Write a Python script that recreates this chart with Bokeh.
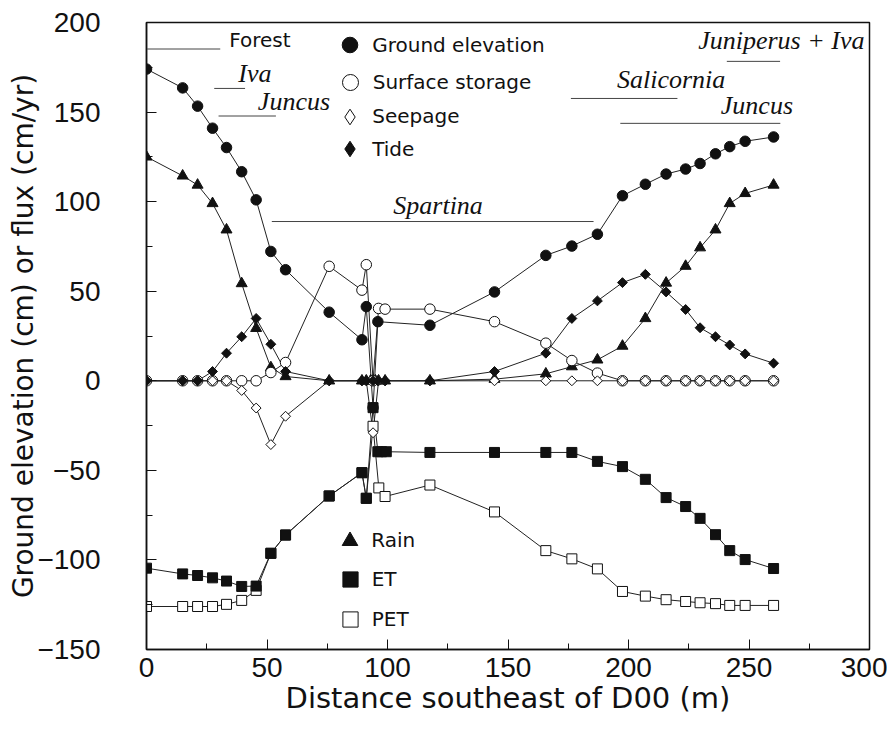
import numpy as np
from bokeh.plotting import figure
from bokeh.models import (SingleIntervalTicker, Legend, LegendItem, Range1d, Title)
from bokeh.core.properties import value
from bokeh.embed import file_html
from bokeh.resources import INLINE

# ---------------- data ----------------
ground_x = [0, 15, 21.2, 27.4, 33.2, 39.5, 45.5, 51.6, 57.7, 75.8, 89.4, 91.2, 94, 96, 117.6,
            144.4, 165.7, 176.5, 187.1, 197.5, 207, 215.6, 223.7, 229.7, 236.1, 242, 248.4, 260.2]
ground = [174, 163.5, 153.3, 141, 130.2, 116.7, 101, 72.2, 62, 38.3, 22.9, 41.4, -15, 33, 31,
          49.6, 70, 75.2, 81.8, 103.3, 109.7, 115.4, 118.2, 121.3, 126.7, 130.7, 133.7, 136.1]

surf_x = [0, 15, 21.2, 27.4, 33.2, 39.5, 45.5, 51.6, 57.7, 75.8, 89.4, 91.2, 94, 96.3, 99, 117.6,
          144.4, 165.7, 176.5, 187.1, 197.5, 207, 215.6, 223.7, 229.7, 236.1, 242, 248.4, 260.2]
surface = [0, 0, 0, 0, 0, 0, 0, 4.6, 10.2, 63.9, 50.6, 64.8, 0, 40.4, 40, 40,
           33, 21, 11.3, 4.3, 0, 0, 0, 0, 0, 0, 0, 0, 0]

seep_x = surf_x
seepage = [0, 0, 0, 0, 0, -5.4, -15.2, -35.6, -19.8, 0, 0, 0, -29, 0, 0, 0,
           0, 0, 0, 0, 0, 0, 0, 0, 0, 0, 0, 0, 0]

tide_x = [0, 15, 21.2, 27.4, 33.2, 39.5, 45.5, 51.6, 57.7, 75.8, 89.4, 91.2, 94, 96, 99, 117.6,
          144.4, 165.7, 176.5, 187.1, 197.5, 207, 215.6, 223.7, 229.7, 236.1, 242, 248.4, 260.2]
tide = [0, 0, 0, 5.2, 15.4, 24.6, 34.8, 20.4, 5.2, 0, 0, 0, 0, 0, 0, 0,
        5.2, 15.4, 34.8, 44.6, 54.8, 59.4, 49.6, 39.8, 29.6, 24.6, 20, 15, 9.8]

rain_x = [0, 15, 21.2, 27.4, 33.2, 39.5, 45.5, 51.6, 57.7, 75.8, 89.4, 91.2, 93, 94, 95, 96.3, 99,
          117.6, 144.4, 165.7, 176.5, 187.1, 197.5, 207, 215.6, 223.7, 229.7, 236.1, 242, 248.4, 260.2]
rain = [125, 114.4, 109.3, 99, 84.3, 54.3, 29.3, 7.4, 2.4, 0, 0, 0, 0, 0, 0, 0, 0,
        0, 0.9, 3.9, 7.9, 11.7, 19.4, 34.8, 54.6, 64, 74.3, 84.3, 99, 104.6, 109.3]

et_x = [0, 15, 21.2, 27.4, 33.2, 39.5, 45.5, 51.6, 57.7, 75.8, 89.4, 91.2, 94, 96, 97.5, 99.5,
        117.6, 144.4, 165.7, 176.5, 187.1, 197.5, 207, 215.6, 223.7, 229.7, 236.1, 242, 248.4, 260.2]
et = [-104.6, -107.8, -108.7, -110, -111.8, -114.8, -114.6, -96.3, -86.1, -64.3, -51.3, -65.6,
      -15, -39.6, -39.6, -39.6, -40, -40, -40, -40, -45, -47.9, -55, -65.2, -70.2, -76.8,
      -85.9, -94.8, -99.8, -104.8]

pet_x = [0, 15, 21.2, 27.4, 33.2, 39.5, 45.5, 51.6, 57.7, 75.8, 89.4, 91.2, 94, 96.4, 99,
         117.6, 144.4, 165.7, 176.5, 187.1, 197.5, 207, 215.6, 223.7, 229.7, 236.1, 242, 248.4, 260.2]
pet = [-126, -126, -126, -126, -124.8, -122.6, -117, -96.3, -86.1, -64.3, -51.3, -65.6, -25.4,
       -59.8, -64.6, -58.2, -73.2, -94.8, -99.4, -105, -117.6, -120.2, -122.2, -123.2, -123.9,
       -124.4, -125.4, -125.4, -125.4]

# vegetation zones (label, bar extent and level, label anchor)
zone_names = ["Forest", "Iva", "Juncus", "Spartina", "Salicornia", "Juncus", "Juniperus + Iva"]
zone_start = [0.3, 28.1, 29.9, 52, 176.1, 196.6, 240.8]
zone_end = [30.6, 40.9, 53.7, 185.5, 220.3, 263, 262.9]
zone_level = [185.2, 163.2, 147.8, 88.9, 157.6, 143.7, 178.3]
zone_label_x = [34.3, 38.1, 46.2, 102.4, 195.2, 238.3, 228.9]
zone_label_y = [190.5, 171.5, 156, 98, 168, 153.5, 190]

# ---------------- figure ----------------
FRAME_LEFT = 146.3    # page px of frame left
FRAME_BOTTOM = 649.0  # page px of frame bottom

p = figure(width=887, height=720, output_backend="svg", toolbar_location=None,
           x_range=Range1d(0, 300), y_range=Range1d(-150, 200),
           min_border_left=146, min_border_right=18, min_border_top=22, min_border_bottom=71)
p.grid.visible = False
p.outline_line_color = "#111111"
p.outline_line_width = 1.5
p.background_fill_color = "white"
p.border_fill_color = "white"

for ax in (p.xaxis[0], p.yaxis[0]):
    ax.ticker = SingleIntervalTicker(interval=50, num_minor_ticks=2)
    ax.major_tick_in = 10
    ax.major_tick_out = 0
    ax.minor_tick_in = 6
    ax.minor_tick_out = 0
    ax.major_tick_line_color = "#111111"
    ax.minor_tick_line_color = "#111111"
    ax.axis_line_color = "#111111"
    ax.axis_line_width = 1.5
    ax.major_label_text_font = "Liberation Sans"
    ax.major_label_text_font_size = "28px"
    ax.major_label_text_color = "#111111"

p.xaxis.major_label_standoff = 8
p.xaxis.axis_label = "Distance southeast of D00 (m)"
p.xaxis.axis_label_text_font = "DejaVu Sans"
p.xaxis.axis_label_text_font_size = "29px"
p.xaxis.axis_label_text_font_style = "normal"
p.xaxis.axis_label_text_color = "#111111"
p.xaxis.axis_label_standoff = 1

p.yaxis.major_label_standoff = 46
p.yaxis.major_label_overrides = {-150: "\u2212150", -100: "\u2212100", -50: "\u221250"}

ytitle = Title(text="Ground elevation (cm) or flux (cm/yr)", align="center", offset=35,
               standoff=-10, text_font="DejaVu Sans", text_font_size="28px",
               text_font_style="normal", text_color="#111111")
p.add_layout(ytitle, "left")

LC = "#222222"
K = "#111111"

# connecting lines
for xs, ys in [(pet_x, pet), (et_x, et), (rain_x, rain), (surf_x, surface),
               (seep_x, seepage), (tide_x, tide), (ground_x, ground)]:
    p.line(xs, ys, line_color=LC, line_width=1)

# markers
r_pet = p.scatter(pet_x, pet, marker="square", size=10, fill_color="white", line_color=K, line_width=1)
r_et = p.scatter(et_x, et, marker="square", size=10, fill_color=K, line_color=K)
r_rain = p.scatter(rain_x, rain, marker="triangle", size=11, fill_color=K, line_color=K)
r_surf = p.scatter(surf_x, surface, marker="circle", size=10.5, fill_color="white", line_color=K, line_width=1)
r_seep = p.scatter(seep_x, seepage, marker="square", angle=np.pi / 4, size=7, fill_color="white",
                   line_color=K, line_width=1)
r_tide = p.scatter(tide_x, tide, marker="square", angle=np.pi / 4, size=7, fill_color=K, line_color=K)
r_ground = p.scatter(ground_x, ground, marker="circle", size=10.5, fill_color=K, line_color=K)

# legend stand-ins for the diamond series (legend glyphs ignore marker angle)
r_seep_key = p.scatter(seep_x, seepage, marker="diamond", size=10, fill_color="white",
                       line_color=K, line_width=1, visible=False)
r_tide_key = p.scatter(tide_x, tide, marker="diamond", size=10, fill_color=K, line_color=K,
                       visible=False)

# vegetation zone bars and labels
p.segment(zone_start, zone_level, zone_end, zone_level, line_color="#444444", line_width=1)
p.text(zone_label_x[:1], zone_label_y[:1], text=zone_names[:1], text_font=value("DejaVu Sans"),
       text_font_size="20px", text_baseline="alphabetic", text_align="left", text_color=K)
p.text(zone_label_x[1:], zone_label_y[1:], text=zone_names[1:], text_font=value("Liberation Serif"),
       text_font_style="italic", text_font_size="26px", text_baseline="alphabetic",
       text_align="left", text_color=K)


def add_legend(label, renderer, cx, cy, msize, text_x):
    g = int(round(msize / 0.4))
    left = cx - g / 2.0 - FRAME_LEFT
    bottom = FRAME_BOTTOM - (cy + g / 2.0)
    leg = Legend(items=[LegendItem(label=label, renderers=[renderer])],
                 location=(left, bottom), glyph_width=g, glyph_height=g, label_height=g,
                 label_standoff=int(round(text_x - (cx + g / 2.0))), padding=0, margin=0,
                 spacing=0, border_line_color=None, background_fill_alpha=0,
                 label_text_font="DejaVu Sans", label_text_font_size="20px",
                 label_text_color=K)
    p.add_layout(leg, "center")


add_legend("Ground elevation", r_ground, 350, 44.5, 15.7, 372.7)
add_legend("Surface storage", r_surf, 350, 82, 16, 372.7)
add_legend("Seepage", r_seep_key, 350, 116.2, 15.5, 372.7)
add_legend("Tide", r_tide_key, 350, 148.7, 15.5, 372.7)
add_legend("Rain", r_rain, 350, 540, 15.7, 371.7)
add_legend("ET", r_et, 350, 579.2, 15.3, 371.7)
add_legend("PET", r_pet, 350, 619.2, 15.3, 371.7)

open("out.html", "w").write(file_html(p, INLINE))
